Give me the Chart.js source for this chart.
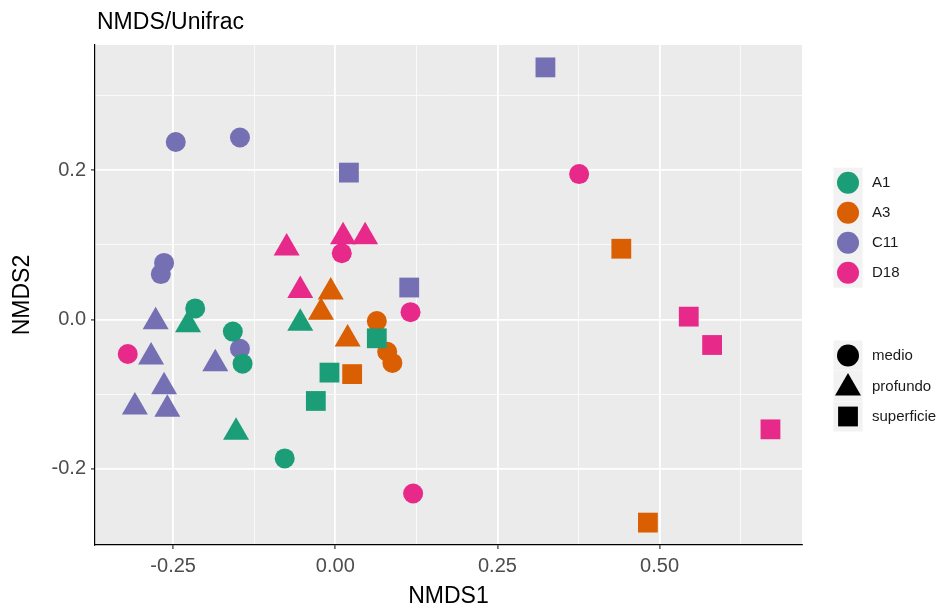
<!DOCTYPE html>
<html>
<head>
<meta charset="utf-8">
<title>NMDS/Unifrac</title>
<script src="https://cdn.jsdelivr.net/npm/chart.js@4.4.1/dist/chart.umd.min.js"></script>
<style>
    body { margin: 0; background: #ffffff; }
    #wrap { width: 945px; height: 608px; }
</style>
</head>
<body>
<div id="wrap"><canvas id="nmdsChart" width="945" height="608"></canvas></div>
<script>
// 站点与深度
const siteNames = ['A1', 'A3', 'C11', 'D18'];
const depthNames = ['medio', 'profundo', 'superficie'];

// A1
const a1X = [-0.216, -0.158, -0.143, -0.078, -0.227, -0.054, -0.153, 0.064, -0.009, -0.030];
const a1Y = [0.015, -0.016, -0.059, -0.186, -0.007, -0.005, -0.151, -0.025, -0.071, -0.109];
const a1Depth = ['medio', 'medio', 'medio', 'medio', 'profundo', 'profundo', 'profundo', 'superficie', 'superficie', 'superficie'];

// A3
const a3X = [0.064, 0.080, 0.088, -0.007, -0.022, 0.019, 0.026, 0.441, 0.482];
const a3Y = [-0.002, -0.043, -0.058, 0.037, 0.010, -0.026, -0.073, 0.095, -0.272];
const a3Depth = ['medio', 'medio', 'medio', 'profundo', 'profundo', 'profundo', 'superficie', 'superficie', 'superficie'];

// C11
const c11X = [-0.246, -0.147, -0.264, -0.269, -0.147, -0.277, -0.284, -0.185, -0.264, -0.309, -0.259, 0.021, 0.114, 0.324];
const c11Y = [0.238, 0.244, 0.076, 0.061, -0.039, -0.003, -0.050, -0.059, -0.090, -0.117, -0.120, 0.197, 0.043, 0.338];
const c11Depth = ['medio', 'medio', 'medio', 'medio', 'medio', 'profundo', 'profundo', 'profundo', 'profundo', 'profundo', 'profundo', 'superficie', 'superficie', 'superficie'];

// D18
const d18X = [0.010, 0.116, -0.320, 0.120, 0.376, -0.075, 0.012, 0.046, -0.054, 0.545, 0.581, 0.671];
const d18Y = [0.089, 0.010, -0.046, -0.233, 0.195, 0.096, 0.111, 0.111, 0.039, 0.004, -0.034, -0.147];
const d18Depth = ['medio', 'medio', 'medio', 'medio', 'medio', 'profundo', 'profundo', 'profundo', 'profundo', 'superficie', 'superficie', 'superficie'];

// 坐标轴刻度
const xMajorTicks = [-0.25, 0, 0.25, 0.5];
const xMinorTicks = [-0.125, 0.125, 0.375, 0.625];
const xTickLabels = ['-0.25', '0.00', '0.25', '0.50'];
const yMajorTicks = [-0.2, 0, 0.2];
const yMinorTicks = [-0.1, 0.1, 0.3];
const yTickLabels = ['-0.2', '0.0', '0.2'];
const xLimits = [-0.3705, 0.7196];
const yLimits = [-0.302, 0.368];

// 样式
const siteColors = ['#1B9E77', '#D95F02', '#7570B3', '#E7298A'];
const depthStyle = { medio: 'circle', profundo: 'triangle', superficie: 'rect' };
const depthRadius = { medio: 10, profundo: 15, superficie: 14 };
const fontFamily = '"Liberation Sans", Arial, sans-serif';

const siteData = [
    [a1X, a1Y, a1Depth],
    [a3X, a3Y, a3Depth],
    [c11X, c11Y, c11Depth],
    [d18X, d18Y, d18Depth]
];

const datasets = siteData.map(function(s, k) {
    const xs = s[0], ys = s[1], ds = s[2];
    return {
        label: siteNames[k],
        data: xs.map((x, i) => ({ x: x, y: ys[i] })),
        pointStyle: ds.map(d => depthStyle[d]),
        pointRadius: ds.map(d => depthRadius[d]),
        backgroundColor: siteColors[k],
        borderColor: siteColors[k],
        pointBorderWidth: 0,
        order: k
    };
});

// 面板背景
const panelPlugin = {
    id: 'panel',
    beforeDraw(chart) {
        const { ctx, chartArea } = chart;
        ctx.save();
        ctx.fillStyle = '#EBEBEB';
        ctx.fillRect(chartArea.left, chartArea.top, chartArea.right - chartArea.left, chartArea.bottom - chartArea.top);
        ctx.restore();
    }
};

function drawShape(ctx, style, x, y, r) {
    ctx.beginPath();
    if (style === 'circle') {
        ctx.arc(x, y, r, 0, Math.PI * 2);
    } else if (style === 'triangle') {
        ctx.moveTo(x, y - r);
        ctx.lineTo(x + r * Math.sqrt(3) / 2, y + r / 2);
        ctx.lineTo(x - r * Math.sqrt(3) / 2, y + r / 2);
        ctx.closePath();
    } else {
        const h = Math.SQRT1_2 * r;
        ctx.rect(x - h, y - h, 2 * h, 2 * h);
    }
    ctx.fill();
}

// 标题与图例
const legendPlugin = {
    id: 'ggLegend',
    afterDraw(chart) {
        const ctx = chart.ctx;
        ctx.save();
        ctx.fillStyle = '#000000';
        ctx.font = '23px ' + fontFamily;
        ctx.textBaseline = 'alphabetic';
        ctx.textAlign = 'left';
        ctx.fillText('NMDS/Unifrac', 97, 28.5);

        const keyX = 848;
        const textX = 872;
        ctx.font = '15px ' + fontFamily;
        ctx.textBaseline = 'middle';
        siteNames.forEach(function(name, i) {
            const y = 182.7 + i * 30;
            ctx.fillStyle = '#F2F2F2';
            ctx.fillRect(keyX - 14.5, y - 15, 29, 30);
            ctx.fillStyle = siteColors[i];
            drawShape(ctx, 'circle', keyX, y, 11);
            ctx.fillStyle = '#1a1a1a';
            ctx.fillText(name, textX, y + 0.5);
        });
        depthNames.forEach(function(name, i) {
            const y = 355.5 + i * 30.5;
            ctx.fillStyle = '#F2F2F2';
            ctx.fillRect(keyX - 14.5, y - 15, 29, 30);
            ctx.fillStyle = '#000000';
            const st = depthStyle[name];
            drawShape(ctx, st, keyX, st === 'triangle' ? y + 2 : y, st === 'circle' ? 11 : depthRadius[name]);
            ctx.fillStyle = '#1a1a1a';
            ctx.fillText(name, textX, y + 0.5);
        });
        ctx.restore();
    }
};

function tickList(major, minor) {
    return major.concat(minor).sort((a, b) => a - b).map(v => ({ value: v }));
}

function isMajor(list, v) {
    return list.some(m => Math.abs(m - v) < 1e-9);
}

document.addEventListener('DOMContentLoaded', function() {
    const ctx = document.getElementById('nmdsChart');
    new Chart(ctx, {
        type: 'scatter',
        data: { datasets: datasets },
        plugins: [panelPlugin, legendPlugin],
        options: {
            responsive: false,
            animation: false,
            events: [],
            layout: { padding: { top: 45, right: 143, left: 0, bottom: 0 } },
            plugins: {
                legend: { display: false },
                tooltip: { enabled: false },
                title: { display: false }
            },
            scales: {
                x: {
                    type: 'linear',
                    min: xLimits[0],
                    max: xLimits[1],
                    afterBuildTicks: function(scale) { scale.ticks = tickList(xMajorTicks, xMinorTicks); },
                    afterFit: function(scale) { scale.height = 63; },
                    border: { display: true, color: '#000000', width: 1.2 },
                    grid: {
                        color: c => isMajor(xMajorTicks, c.tick.value) ? '#FFFFFF' : 'rgba(255,255,255,0.85)',
                        lineWidth: c => isMajor(xMajorTicks, c.tick.value) ? 1.8 : 0.9,
                        tickColor: c => isMajor(xMajorTicks, c.tick.value) ? '#333333' : 'rgba(0,0,0,0)',
                        tickLength: 4,
                        tickWidth: 1.2
                    },
                    ticks: {
                        autoSkip: false,
                        maxRotation: 0,
                        padding: 5,
                        color: '#4D4D4D',
                        font: { family: fontFamily, size: 20 },
                        callback: function(value) {
                            const i = xMajorTicks.findIndex(m => Math.abs(m - value) < 1e-9);
                            return i >= 0 ? xTickLabels[i] : '';
                        }
                    },
                    title: {
                        display: true,
                        text: 'NMDS1',
                        color: '#000000',
                        font: { family: fontFamily, size: 23, lineHeight: 1 },
                        padding: { top: 0, bottom: 0 }
                    }
                },
                y: {
                    type: 'linear',
                    min: yLimits[0],
                    max: yLimits[1],
                    afterBuildTicks: function(scale) { scale.ticks = tickList(yMajorTicks, yMinorTicks); },
                    afterFit: function(scale) { scale.width = 95; },
                    border: { display: true, color: '#000000', width: 1.2 },
                    grid: {
                        color: c => isMajor(yMajorTicks, c.tick.value) ? '#FFFFFF' : 'rgba(255,255,255,0.85)',
                        lineWidth: c => isMajor(yMajorTicks, c.tick.value) ? 1.8 : 0.9,
                        tickColor: c => isMajor(yMajorTicks, c.tick.value) ? '#333333' : 'rgba(0,0,0,0)',
                        tickLength: 4,
                        tickWidth: 1.2
                    },
                    ticks: {
                        autoSkip: false,
                        padding: 5,
                        color: '#4D4D4D',
                        font: { family: fontFamily, size: 20 },
                        callback: function(value) {
                            const i = yMajorTicks.findIndex(m => Math.abs(m - value) < 1e-9);
                            return i >= 0 ? yTickLabels[i] : '';
                        }
                    },
                    title: {
                        display: true,
                        text: 'NMDS2',
                        color: '#000000',
                        font: { family: fontFamily, size: 23, lineHeight: 1 },
                        padding: { top: 11.5, bottom: 0 }
                    }
                }
            }
        }
    });
});
</script>
</body>
</html>
